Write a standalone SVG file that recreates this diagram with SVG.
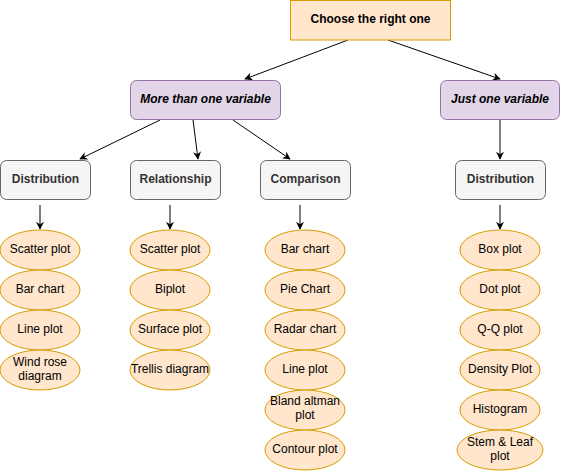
<svg xmlns="http://www.w3.org/2000/svg" width="561" height="471" viewBox="0 0 561 471">
<style>
text{font-family:"Liberation Sans",Arial,sans-serif;font-size:12px;text-anchor:middle;dominant-baseline:central}
.top{fill:#ffe6cc;stroke:#d79b00}
.var{fill:#e1d5e7;stroke:#9673a6}
.cat{fill:#f5f5f5;stroke:#666666}
.ell{fill:#ffe6cc;stroke:#d79b00}
.b{font-weight:bold;fill:#000}
.bi{font-weight:bold;font-style:italic;fill:#000}
.ct{font-weight:bold;fill:#333333}
.t{fill:#000}
.c{stroke:#000;stroke-width:1;fill:none;marker-end:url(#ah)}
</style>
<defs>
<marker id="ah" viewBox="0 0 10 10" refX="9" refY="5" markerWidth="8" markerHeight="8" markerUnits="userSpaceOnUse" orient="auto">
<path d="M0,0 L10,5 L0,10 L3,5 Z" fill="#000"/>
</marker>
</defs>
<g id="connectors">
<line class="c" x1="348" y1="40" x2="245" y2="79"/>
<line class="c" x1="388" y1="40" x2="500" y2="79"/>
<line class="c" x1="160" y1="120" x2="80" y2="159"/>
<line class="c" x1="193" y1="120" x2="198" y2="159"/>
<line class="c" x1="233" y1="120" x2="290" y2="159"/>
<line class="c" x1="500" y1="120" x2="500" y2="159"/>
<line class="c" x1="40" y1="205" x2="40" y2="229"/>
<line class="c" x1="170" y1="205" x2="170" y2="229"/>
<line class="c" x1="300" y1="205" x2="300" y2="229"/>
<line class="c" x1="500" y1="205" x2="500" y2="229"/>
</g>
<g id="root"><rect class="top" x="290.5" y="0.5" width="160" height="39.5"/><text class="b" x="370.5" y="19">Choose the right one</text></g>
<g id="more"><rect class="var" x="130.5" y="80.5" width="150" height="39" rx="6"/><text class="bi" x="205.5" y="99">More than one variable</text></g>
<g id="just"><rect class="var" x="440.5" y="80.5" width="119" height="39" rx="6"/><text class="bi" x="500" y="99">Just one variable</text></g>
<g id="dist1"><rect class="cat" x="0.5" y="160.5" width="90" height="39" rx="6"/><text class="ct" x="45.5" y="179">Distribution</text></g>
<g id="rel"><rect class="cat" x="130.5" y="160.5" width="90" height="39" rx="6"/><text class="ct" x="175.5" y="179">Relationship</text></g>
<g id="comp"><rect class="cat" x="260.5" y="160.5" width="90" height="39" rx="6"/><text class="ct" x="305.5" y="179">Comparison</text></g>
<g id="dist2"><rect class="cat" x="455.5" y="160.5" width="90" height="39" rx="6"/><text class="ct" x="500.5" y="179">Distribution</text></g>
<g id="d1a"><ellipse class="ell" cx="40" cy="250" rx="40" ry="20"/><text class="t" x="40" y="249">Scatter plot</text></g>
<g id="d1b"><ellipse class="ell" cx="40" cy="290" rx="40" ry="20"/><text class="t" x="40" y="289">Bar chart</text></g>
<g id="d1c"><ellipse class="ell" cx="40" cy="330" rx="40" ry="20"/><text class="t" x="40" y="329">Line plot</text></g>
<g id="d1d"><ellipse class="ell" cx="40" cy="370" rx="40" ry="20"/><text class="t" x="40" y="362">Wind rose</text><text class="t" x="40" y="376">diagram</text></g>
<g id="r1"><ellipse class="ell" cx="170" cy="250" rx="40" ry="20"/><text class="t" x="170" y="249">Scatter plot</text></g>
<g id="r2"><ellipse class="ell" cx="170" cy="290" rx="40" ry="20"/><text class="t" x="170" y="289">Biplot</text></g>
<g id="r3"><ellipse class="ell" cx="170" cy="330" rx="40" ry="20"/><text class="t" x="170" y="329">Surface plot</text></g>
<g id="r4"><ellipse class="ell" cx="170" cy="370" rx="40" ry="20"/><text class="t" x="170" y="369">Trellis diagram</text></g>
<g id="c1"><ellipse class="ell" cx="305" cy="250" rx="40" ry="20"/><text class="t" x="305" y="249">Bar chart</text></g>
<g id="c2"><ellipse class="ell" cx="305" cy="290" rx="40" ry="20"/><text class="t" x="305" y="289">Pie Chart</text></g>
<g id="c3"><ellipse class="ell" cx="305" cy="330" rx="40" ry="20"/><text class="t" x="305" y="329">Radar chart</text></g>
<g id="c4"><ellipse class="ell" cx="305" cy="370" rx="40" ry="20"/><text class="t" x="305" y="369">Line plot</text></g>
<g id="c5"><ellipse class="ell" cx="305" cy="410" rx="40" ry="20"/><text class="t" x="305" y="401">Bland altman</text><text class="t" x="305" y="415">plot</text></g>
<g id="c6"><ellipse class="ell" cx="305" cy="450" rx="40" ry="20"/><text class="t" x="305" y="449">Contour plot</text></g>
<g id="e1"><ellipse class="ell" cx="500" cy="250" rx="40" ry="20"/><text class="t" x="500" y="249">Box plot</text></g>
<g id="e2"><ellipse class="ell" cx="500" cy="290" rx="40" ry="20"/><text class="t" x="500" y="289">Dot plot</text></g>
<g id="e3"><ellipse class="ell" cx="500" cy="330" rx="40" ry="20"/><text class="t" x="500" y="329">Q-Q plot</text></g>
<g id="e4"><ellipse class="ell" cx="500" cy="370" rx="40" ry="20"/><text class="t" x="500" y="369">Density Plot</text></g>
<g id="e5"><ellipse class="ell" cx="500" cy="410" rx="40" ry="20"/><text class="t" x="500" y="409">Histogram</text></g>
<g id="e6"><ellipse class="ell" cx="500" cy="450" rx="43" ry="20"/><text class="t" x="500" y="442">Stem &amp; Leaf</text><text class="t" x="500" y="456">plot</text></g>
</svg>
